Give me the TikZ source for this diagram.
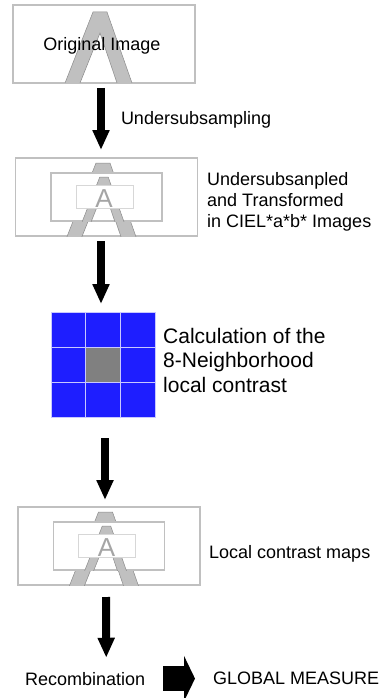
\documentclass[tikz,border=0pt]{standalone}
\usepackage{fontspec}
\setmainfont{Liberation Sans}
\usetikzlibrary{arrows.meta}
\definecolor{boxgray}{RGB}{192,192,192}
\definecolor{agray}{RGB}{192,192,192}
\definecolor{aedge}{RGB}{140,140,140}
\definecolor{innergray}{RGB}{215,215,215}
\definecolor{smallgray}{RGB}{165,165,165}
\definecolor{cellblue}{RGB}{30,30,255}
\definecolor{cellgray}{RGB}{128,128,128}
\definecolor{cellline}{RGB}{200,200,255}
\tikzset{
	imgbox/.style={draw=boxgray, line width=1.5pt, fill=white, minimum width=182pt,
		minimum height=78pt, inner sep=0pt, outer sep=0pt},
	midbox/.style={draw=boxgray, line width=1.2pt, fill=white},
	innerbox/.style={draw=innergray, line width=1pt, fill=white},
	letterA/.style={fill=agray, draw=aedge, line width=0.5pt},
	smallA/.style={text=smallgray, font=\fontsize{26}{26}\selectfont, anchor=base, inner sep=0pt},
	labeltext/.style={font=\fontsize{18}{21}\selectfont, inner sep=0pt},
	bigtext/.style={font=\fontsize{21}{24.5}\selectfont, inner sep=0pt},
	cell/.style={fill=cellblue, draw=cellline, line width=0.8pt},
	flowarrow/.style={line width=8pt, -{Triangle[width=16pt,length=20pt]}},
	blockarrow/.style={line width=25pt, -{Triangle[width=45pt,length=11pt]}}
}
% grey letter A, apex at (#1,#2), scaled by #3
\newcommand{\LetterA}[3]{
	\filldraw[letterA, shift={(#1,#2)}, scale=#3]
		(-7,0) -- (7,0) -- (42.2,100) -- (26.9,100) -- (0,21)
		-- (-31.6,100) -- (-46.4,100) -- cycle;
}
% subsampled image: name, centre x, centre y
\newcommand{\SubImage}[3]{
	\node[imgbox] (#1) at (#2,#3) {};
	\begin{scope}[shift={(#2,#3)}]
		\begin{scope}
			\clip (-91,-39) rectangle (91,39);
			\LetterA{-3.5}{-34}{1}
		\end{scope}
		\filldraw[midbox] (-55.5,-24) rectangle (55.5,24);
		\begin{scope}
			\clip (-55.5,-24) rectangle (55.5,24);
			\LetterA{-2.5}{-20}{0.6}
		\end{scope}
		\filldraw[innerbox] (-30.5,-12) rectangle (26.5,11);
		\node[smallA] at (-2.5,10) {A};
	\end{scope}
}
\begin{document}
\begin{tikzpicture}[x=1pt, y=-1pt]
	\useasboundingbox (0,0) rectangle (383,698);
	% original image
	\node[imgbox] (orig) at (104,44) {};
	\begin{scope}
		\clip (orig.south west) rectangle (orig.north east);
		\LetterA{100}{12}{1}
	\end{scope}
	\node[labeltext] (origlabel) at (102,46) {Original Image};
	% undersampled images
	\SubImage{sub}{106.5}{197}
	\node[labeltext, align=left, anchor=base west] (sublabel) at (207,227)
		{Undersubsanpled\\and Transformed\\in CIEL*a*b* Images};
	% 8-neighbourhood
	\node[minimum width=104pt, minimum height=105pt, inner sep=0pt, outer sep=0pt] (grid) at (103,364.5) {};
	\begin{scope}[shift={(grid.north west)}]
		\foreach \i in {0,1,2}{
			\foreach \j in {0,1,2}{
				\filldraw[cell] (\i*34.67,\j*35) rectangle ++(34.67,35);
			}
		}
		\filldraw[cell, fill=cellgray] (34.67,35) rectangle ++(34.67,35);
	\end{scope}
	\node[bigtext, align=left, anchor=base west] (calclabel) at (163,392)
		{Calculation of the\\8-Neighborhood\\local contrast};
	% contrast maps
	\SubImage{maps}{109}{546}
	\node[labeltext, anchor=base west] (mapslabel) at (209,558) {Local contrast maps};
	% recombination
	\node[labeltext, anchor=base west] (recomb) at (25,685) {Recombination};
	\node[labeltext, anchor=base west] (global) at (213,684) {GLOBAL MEASURE};
	% arrows
	\draw[flowarrow] ([xshift=-3pt,yshift=-5pt]orig.south) -- ([xshift=-5.5pt,yshift=8pt]sub.north)
		node[labeltext, pos=0.52, anchor=west, xshift=16pt] (subsamplabel) {Undersubsampling};
	\draw[flowarrow] ([xshift=-5.5pt,yshift=-5pt]sub.south) -- ([xshift=-2pt,yshift=8pt]grid.north);
	\draw[flowarrow] ([xshift=2pt,yshift=-21pt]grid.south) -- ([xshift=-4pt,yshift=7pt]maps.north);
	\draw[flowarrow] ([xshift=-3pt,yshift=-12pt]maps.south) -- ([xshift=21pt,yshift=14pt]recomb.north);
	\draw[blockarrow] ([xshift=18pt]recomb.east) -- ([xshift=-18pt]recomb.east -| global.west);
\end{tikzpicture}
\end{document}
